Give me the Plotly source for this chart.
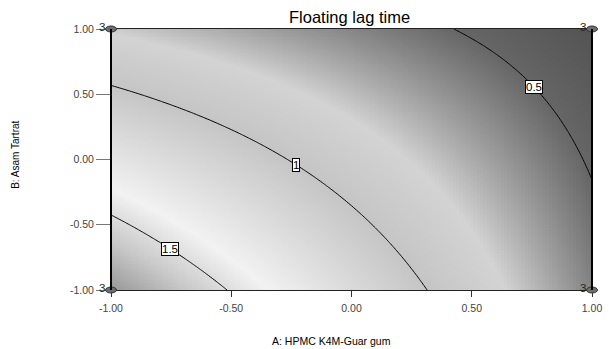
import numpy as np
import plotly.graph_objects as go

# --- data ---------------------------------------------------------------
x_ticks = [-1.0, -0.5, 0.0, 0.5, 1.0]
x_tick_text = ["-1.00", "-0.50", "0.00", "0.50", "1.00"]
y_ticks = [-1.0, -0.5, 0.0, 0.5, 1.0]
y_tick_text = ["-1.00", "-0.50", "0.00", "0.50", "1.00"]

contour_levels = [0.5, 1.0, 1.5]
# points (A, B)
c05_x = [0.394, 0.585, 0.759, 0.884, 1.0]
c05_y = [1.0, 0.871, 0.558, 0.229, -0.144]
c10_x = [-1.0, -0.531, -0.231, -0.014, 0.177, 0.313]
c10_y = [0.576, 0.234, -0.023, -0.337, -0.671, -1.0]
c15_x = [-1.0, -0.755, -0.524]
c15_y = [-0.44, -0.658, -1.0]

label_text = ["0.5", "1", "1.5"]
label_x = [0.759, -0.231, -0.755]

design_x = [-1.0, -1.0, 1.0, 1.0]
design_y = [-1.0, 1.0, -1.0, 1.0]
design_n = ["3", "3", "3", "3"]

# grey shade of the response (value -> grey)
shade_vals = [0.2, 0.5, 0.8, 1.0, 1.4, 1.6, 2.0]
shade_cols = ["#383838", "#666666", "#d3d3d3", "#c5c5c5", "#f2f2f2", "#c8c8c8", "#606060"]

# --- quadratic response surface fitted to the traced contours -----------
px, py, pz = [], [], []
for xs, ys, lv in [(c05_x, c05_y, 0.5), (c10_x, c10_y, 1.0), (c15_x, c15_y, 1.5)]:
    px += xs; py += ys; pz += [lv] * len(xs)
px, py, pz = np.array(px), np.array(py), np.array(pz)
M = np.column_stack([np.ones_like(px), px, py, px * py, px ** 2, py ** 2])
coef, *_ = np.linalg.lstsq(M, pz, rcond=None)
b0, b1, b2, b3, b4, b5 = coef


def model(a, b):
    return b0 + b1 * a + b2 * b + b3 * a * b + b4 * a ** 2 + b5 * b ** 2


gx = np.linspace(-1, 1, 141)
gy = np.linspace(-1, 1, 181)
GX, GY = np.meshgrid(gx, gy)
Z = model(GX, GY)

zmin, zmax = shade_vals[0], shade_vals[-1]
cscale = [[(v - zmin) / (zmax - zmin), c] for v, c in zip(shade_vals, shade_cols)]

fig = go.Figure()
fig.add_trace(go.Heatmap(x=gx, y=gy, z=Z, colorscale=cscale, zmin=zmin, zmax=zmax,
                         showscale=False, hoverinfo="skip"))
fig.add_trace(go.Contour(x=gx, y=gy, z=Z, showscale=False, hoverinfo="skip",
                         contours=dict(coloring="lines", start=0.5, end=1.5, size=0.5),
                         line=dict(color="black", width=1),
                         colorscale=[[0, "black"], [1, "black"]]))

# contour labels (boxed)
for lv, txt, lx in zip(contour_levels, label_text, label_x):
    r = np.roots([b5, b2 + b3 * lx, b0 + b1 * lx + b4 * lx ** 2 - lv])
    r = [v.real for v in r if abs(v.imag) < 1e-9 and -1.05 <= v.real <= 1.05]
    ly = r[0] if r else 0
    fig.add_annotation(x=lx, y=ly, text=txt, showarrow=False, bgcolor="white",
                       bordercolor="black", borderwidth=1, borderpad=0,
                       font=dict(family="Arial", size=11.5, color="black"))

# design points: ellipse markers + replicate count
for dx, dy, n in zip(design_x, design_y, design_n):
    xp, yp = (dx + 1) / 2, (dy + 1) / 2
    fig.add_shape(type="circle", xref="paper", yref="paper", xsizemode="pixel",
                  ysizemode="pixel", xanchor=xp, yanchor=yp, x0=-5.5, x1=5.5, y0=-3, y1=3,
                  fillcolor="#6e6e6e", line=dict(color="#333333", width=1), layer="above")
    fig.add_annotation(x=xp, y=yp, xref="paper", yref="paper", text=n, showarrow=False,
                       xanchor="right", yanchor="middle", xshift=-4, yshift=2,
                       font=dict(family="Arial", size=11.5, color="#222222"))

# frame: thicker left/right edges
for xe in [0, 1]:
    fig.add_shape(type="line", xref="paper", yref="paper", x0=xe, x1=xe, y0=0, y1=1,
                  line=dict(color="black", width=2), layer="above")

fig.add_annotation(text="Floating lag time", xref="paper", yref="paper", x=0.495, y=1,
                   xanchor="center", yanchor="middle", yshift=12, showarrow=False,
                   font=dict(family="Arial", size=16.5, color="black"))
fig.add_annotation(text="A: HPMC K4M-Guar gum", xref="paper", yref="paper", x=0.458, y=0,
                   xanchor="center", yanchor="middle", yshift=-51, showarrow=False,
                   font=dict(family="Arial", size=10.5, color="black"))
fig.add_annotation(text="B: Asam Tartrat", xref="paper", yref="paper", x=-0.2,
                   y=0.517, xanchor="center", yanchor="middle",
                   textangle=-90, showarrow=False,
                   font=dict(family="Arial", size=10, color="black"))

fig.update_layout(
    width=609, height=349, margin=dict(l=111, r=7, t=29, b=59),
    paper_bgcolor="white", plot_bgcolor="white", showlegend=False,
    xaxis=dict(range=[-1, 1], tickvals=x_ticks, ticktext=x_tick_text, ticks="outside",
               ticklen=6, tickcolor="#333333", showgrid=False, zeroline=False,
               showline=True, linecolor="#222222", linewidth=1, mirror=True,
               ticklabeloverflow="allow", ticklabelstandoff=2,
               tickfont=dict(family="Arial", size=10.5, color="#444444")),
    yaxis=dict(range=[-1, 1], tickvals=y_ticks, ticktext=y_tick_text, ticks="outside",
               ticklen=14, tickcolor="#777777", showgrid=False, zeroline=False,
               showline=True, linecolor="#222222", linewidth=1, mirror=True,
               tickfont=dict(family="Arial", size=10.5, color="#444444")),
)

fig.write_html("out.html")
